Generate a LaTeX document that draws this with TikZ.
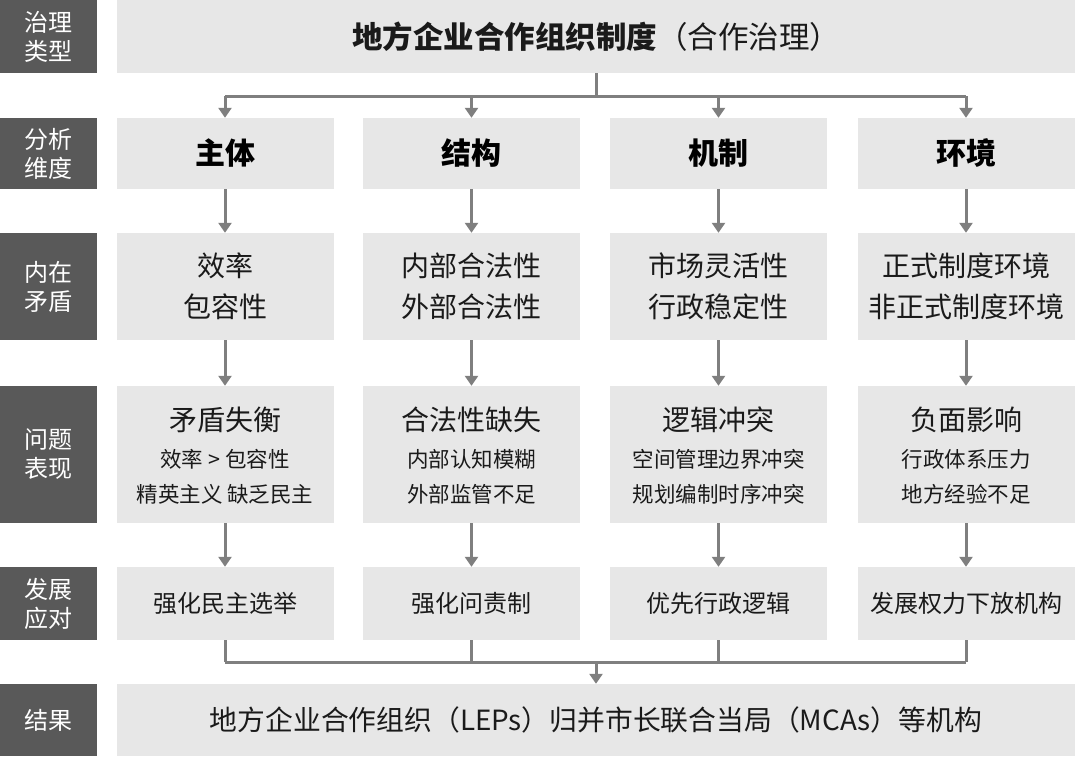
\documentclass[tikz,border=0pt]{standalone}
\usepackage{fontspec}
\setmainfont{Noto Sans CJK SC}
\usetikzlibrary{arrows.meta}
\definecolor{labfill}{HTML}{595959}
\definecolor{boxfill}{HTML}{E7E7E7}
\definecolor{linegray}{HTML}{7F7F7F}
\definecolor{txt}{HTML}{1A1A1A}
\begin{document}
\begin{tikzpicture}[x=1pt,y=-1pt,
  lab/.style={fill=labfill,text=white,minimum width=97pt,inner sep=0pt,align=center,font=\fontsize{24}{29}\selectfont},
  cell/.style={fill=boxfill,minimum width=217pt,inner sep=0pt},
  tx/.style={text=txt,inner sep=0pt,align=center},
  conn/.style={draw=linegray,line width=3pt},
  arr/.style={conn,-{Triangle[width=13pt,length=10pt]}}]
\useasboundingbox (0,0) rectangle (1080,756);
% left labels
\node[lab,minimum height=73pt] (l1) at (48.5,36.5) {治理\\类型};
\node[lab,minimum height=71pt] (l2) at (48.5,153.5) {分析\\维度};
\node[lab,minimum height=107pt] (l3) at (48.5,286.5) {内在\\矛盾};
\node[lab,minimum height=137pt] (l4) at (48.5,454.5) {问题\\表现};
\node[lab,minimum height=73pt] (l5) at (48.5,603.5) {发展\\应对};
\node[lab,minimum height=72pt] (l6) at (48.5,720) {结果};
% top box
\node[cell,minimum width=958pt,minimum height=73pt,text=txt,font=\fontsize{30.5}{36}\selectfont] (top) at (596,36.5) {{\bfseries 地方企业合作组织制度}（合作治理）};
% row 2
\foreach \n/\x/\t in {a/225/主体,b/471.5/结构,c/718.5/机制,d/966/环境}{
  \node[cell,minimum height=71pt,text=black,font=\fontsize{30}{36}\selectfont\bfseries] (r2\n) at (\x,153.5) {\t};
}
% row 3
\foreach \n/\x/\t in {a/225/{效率\\包容性},b/471.5/{内部合法性\\外部合法性},c/718.5/{市场灵活性\\行政稳定性},d/966/{正式制度环境\\非正式制度环境}}{
  \node[cell,minimum height=107pt,text=txt,align=center,font=\fontsize{28}{41}\selectfont] (r3\n) at (\x,286.5) {\t};
}
% row 4
\foreach \n/\x/\t/\s in {a/225/矛盾失衡/{效率 > 包容性\\精英主义 缺乏民主},b/471.5/合法性缺失/{内部认知模糊\\外部监管不足},c/718.5/逻辑冲突/{空间管理边界冲突\\规划编制时序冲突},d/966/负面影响/{行政体系压力\\地方经验不足}}{
  \node[cell,minimum height=137pt] (r4\n) at (\x,454.5) {};
  \node[tx,font=\fontsize{28}{34}\selectfont] (r4\n t) at (\x,420) {\t};
  \node[tx,font=\fontsize{21.5}{35}\selectfont] (r4\n s) at (\x,476.5) {\s};
}
% row 5
\foreach \n/\x/\t in {a/225/强化民主选举,b/471.5/强化问责制,c/718.5/优先行政逻辑,d/966/发展权力下放机构}{
  \node[cell,minimum height=73pt,text=txt,font=\fontsize{24}{30}\selectfont] (r5\n) at (\x,603.5) {\t};
}
% row 6
\node[cell,minimum width=958pt,minimum height=72pt,text=txt,font=\fontsize{27.8}{32}\selectfont] (res) at (596,720) {地方企业合作组织（LEPs）归并市长联合当局（MCAs）等机构};
% connectors top
\coordinate (hl) at (225,96);
\coordinate (hm) at (596,96);
\coordinate (hr) at (966,96);
\draw[conn] (top.south) -- (hm);
\draw[conn] (hl) -- (hr);
\foreach \n in {a,b,c,d}{
  \draw[arr] (r2\n.north |- hm) -- (r2\n.north);
  \draw[arr] (r2\n.south) -- (r3\n.north);
  \draw[arr] (r3\n.south) -- (r4\n.north);
  \draw[arr] (r4\n.south) -- (r5\n.north);
}
% connectors bottom
\coordinate (bl) at (225,662);
\coordinate (bm) at (596,662);
\coordinate (br) at (966,662);
\foreach \n in {a,b,c,d}{
  \draw[conn] (r5\n.south) -- (r5\n.south |- bm);
}
\draw[conn] (bl) -- (br);
\draw[arr] (bm) -- (res.north);
\end{tikzpicture}
\end{document}
